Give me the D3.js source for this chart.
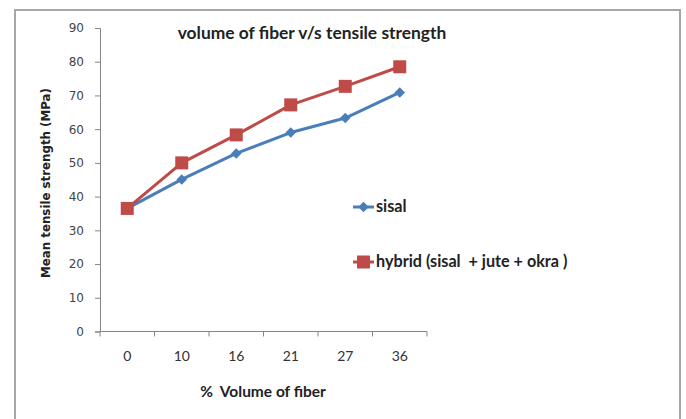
<!DOCTYPE html>
<html><head><meta charset="utf-8">
<script src="https://cdn.jsdelivr.net/npm/d3@7"></script>
<style>body{margin:0;background:#fff}svg{display:block}text{white-space:pre}</style>
</head><body>
<svg id="c" width="686" height="419"></svg>
<script>
const categories = ["0","10","16","21","27","36"];
const sisal = [36.5, 45.1, 52.8, 59.0, 63.3, 70.9];
const hybrid = [36.5, 50.0, 58.3, 67.2, 72.7, 78.5];
const yTicks = [0,10,20,30,40,50,60,70,80,90];
const seriesNames = ["sisal", "hybrid (sisal  + jute + okra )"];

(function(){
const svg = d3.select("#c");
svg.append("rect").attr("x",15).attr("y",10).attr("width",665).attr("height",420)
  .attr("fill","#fff").attr("stroke","#a6a6a6").attr("stroke-width",2);

const pL=100,pR=427,pT=28,pB=331.5;
const x = d3.scaleBand().domain(categories).range([pL,pR]);
const y = d3.scaleLinear().domain([0,90]).range([pB,pT]);

const yAxis = svg.append("g").attr("transform",`translate(${pL},0)`)
  .call(d3.axisLeft(y).tickValues(yTicks).tickSize(5).tickPadding(11));
yAxis.select(".domain").attr("stroke","#868686");
yAxis.selectAll(".tick line").attr("stroke","#868686");
yAxis.selectAll("text").attr("font-family","DejaVu Sans").attr("font-size",12).attr("fill","#444");

const xAxis = svg.append("g").attr("transform",`translate(0,${pB})`)
  .call(d3.axisBottom(x).tickSize(0).tickPadding(20));
xAxis.select(".domain").attr("stroke","#868686").attr("d",`M${pL},0H${pR}`);
xAxis.selectAll("text").attr("font-family","Lato").attr("font-size",14).attr("fill","#333");
const edges = categories.map(c=>x(c)).concat([pR]);
xAxis.selectAll(".edge").data(edges).enter().append("line").attr("class","edge")
  .attr("x1",d=>d).attr("x2",d=>d).attr("y1",0).attr("y2",5).attr("stroke","#868686");

const cx = c => x(c)+x.bandwidth()/2;
const colors = ["#4a7ebb","#be4b48"];
const line = d3.line().x((d,i)=>cx(categories[i])).y(d=>y(d));

[sisal,hybrid].forEach((s,k)=>{
  svg.append("path").datum(s).attr("d",line).attr("fill","none")
    .attr("stroke",colors[k]).attr("stroke-width",3).attr("stroke-linejoin","round");
});
const diamond = d3.symbol().type(d3.symbolDiamond2).size(70);
svg.selectAll(".dm").data(sisal).enter().append("path")
  .attr("transform",(d,i)=>`translate(${cx(categories[i])},${y(d)})`)
  .attr("d",diamond).attr("fill",colors[0]);
svg.selectAll(".sq").data(hybrid).enter().append("rect")
  .attr("x",(d,i)=>cx(categories[i])-6.5).attr("y",d=>y(d)-6.5)
  .attr("width",13).attr("height",13).attr("fill",colors[1]);

const lg=[{y:207,k:0},{y:262,k:1}];
lg.forEach(o=>{
  svg.append("line").attr("x1",353).attr("x2",374).attr("y1",o.y).attr("y2",o.y)
    .attr("stroke",colors[o.k]).attr("stroke-width",3);
  if(o.k===0) svg.append("path").attr("transform",`translate(363.5,${o.y})`).attr("d",diamond).attr("fill",colors[0]);
  else svg.append("rect").attr("x",357).attr("y",o.y-6.5).attr("width",13).attr("height",13).attr("fill",colors[1]);
  svg.append("text").attr("x",376).attr("y",o.y+5).text(seriesNames[o.k])
    .attr("font-family","Lato").attr("font-weight","bold").attr("font-size",16.2).attr("fill","#222");
});

svg.append("text").attr("x",312).attr("y",39).attr("text-anchor","middle")
  .text("volume of fiber v/s tensile strength")
  .attr("font-family","Lato").attr("font-weight","bold").attr("font-size",17.4).attr("fill","#222");
svg.append("text").attr("x",263).attr("y",397).attr("text-anchor","middle")
  .text("%  Volume of fiber")
  .attr("font-family","Lato").attr("font-weight","bold").attr("font-size",15.5).attr("fill","#222");
svg.append("text").attr("transform","translate(50,183) rotate(-90)").attr("text-anchor","middle")
  .text("Mean tensile strength (MPa)")
  .attr("font-family","DejaVu Sans").attr("font-weight","bold").attr("font-size",11.8).attr("fill","#222");
})();
</script>
</body></html>
